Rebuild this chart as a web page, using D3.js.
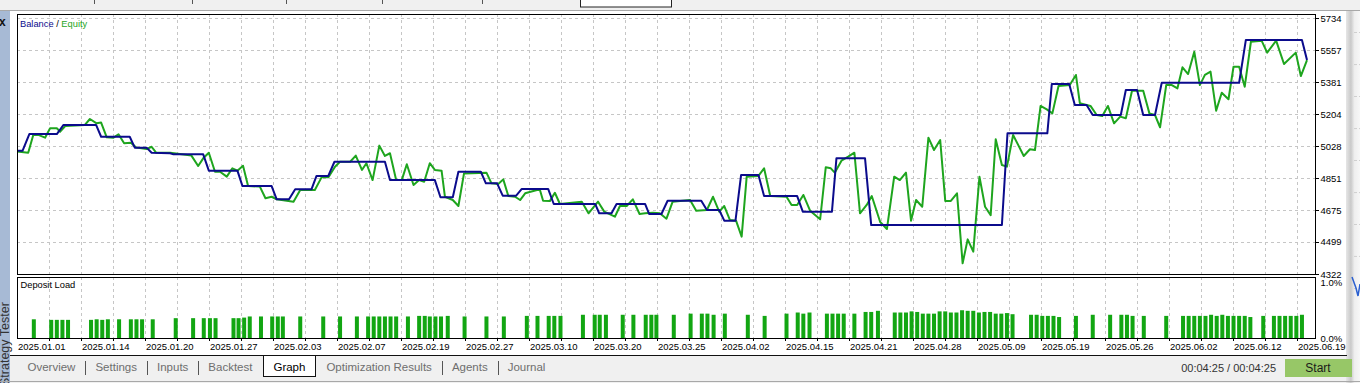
<!DOCTYPE html>
<html lang="en">
<head>
<meta charset="utf-8">
<title>Strategy Tester - Graph</title>
<script src="https://d3js.org/d3.v7.min.js"></script>
<style>
  html, body {
    margin: 0;
    padding: 0;
    background: #f0f0f0;
    overflow: hidden;
  }
  svg {
    display: block;
    font-family: "Liberation Sans", Arial, sans-serif;
  }
  .grid line {
    stroke: #c6c6c6;
    stroke-dasharray: 3,3;
    shape-rendering: crispEdges;
  }
  .frame {
    fill: none;
    stroke: #000;
    shape-rendering: crispEdges;
  }
  .axis text {
    font-size: 9.5px;
    fill: #000;
    font-family: "Liberation Sans", Arial, sans-serif;
  }
  .axis line {
    stroke: #000;
    shape-rendering: crispEdges;
  }
  .axis .domain {
    display: none;
  }
  .tab {
    font-size: 11.5px;
    fill: #6e6e6e;
  }
</style>
</head>
<body>
<div id="chart"></div>
<script>
// x axis labels (dates under the deposit panel)
var dateLabels = ["2025.01.01", "2025.01.14", "2025.01.20", "2025.01.27", "2025.02.03",
  "2025.02.07", "2025.02.19", "2025.02.27", "2025.03.10", "2025.03.20", "2025.03.25",
  "2025.04.02", "2025.04.15", "2025.04.21", "2025.04.28", "2025.05.09", "2025.05.19",
  "2025.05.26", "2025.06.02", "2025.06.12", "2025.06.19"];

// right axis values
var yTicks = [4322, 4499, 4675, 4851, 5028, 5204, 5381, 5557, 5734];
var loadTicks = [0, 1];

// [deal number, balance]
var balance = [[0,5002],[1,5002],[2.2,5094],[7.1,5094],[8.3,5144],[14.1,5144],[15,5079],[20.1,5079],
  [21,5019],[23.1,5019],[24,4991],[27.3,4988],[27.9,4982],[33.2,4982],[34.2,4892],[39.3,4892],
  [40.2,4807],[45.4,4807],[46.3,4734],[48.5,4734],[49.6,4789],[52.5,4789],[53.4,4863],[55.5,4863],
  [56.6,4941],[65.6,4941],[66.5,4840],[74.5,4840],[75.5,4745],[77.7,4745],[78.7,4886],[82.7,4886],
  [83.6,4822],[85.6,4822],[86.6,4754],[89,4754],[90,4791],[94.7,4791],[95.7,4708],[103.1,4708],
  [103.8,4657],[106,4657],[106.9,4708],[112,4708],[112.7,4653],[114.9,4653],[116,4726],[122,4726],
  [123,4675],[125.2,4675],[126.1,4616],[128.1,4616],[129.1,4868],[132.2,4868],[133.2,4752],[139.1,4752],
  [140.1,4666],[145.3,4666],[146.1,4960],[151.2,4960],[152.3,4592],[175.6,4592],[176.6,5098],[183.7,5098],
  [184.5,5370],[187.6,5370],[188.6,5254],[190.7,5254],[191.8,5199],[196.8,5199],[197.7,5337],[199.7,5337],
  [200.8,5199],[202.9,5199],[204.1,5377],[217.9,5377],[219.1,5613],[229.1,5613],[230,5502]];

// [deal number, equity]
var equity = [[0,4997],[2,4991],[2.9,5089],[3.8,5089],[5,5074],[5.9,5126],[7.1,5126],[7.7,5107],
  [8.6,5138],[12.1,5144],[13,5177],[14.2,5153],[15,5157],[16,5076],[17.2,5074],[18.1,5093],[19.1,5043],
  [20.3,5046],[21.3,5019],[23.1,5011],[24,5024],[24.8,4991],[27.3,4991],[31.1,4975],[32.3,4918],
  [33.2,4960],[34.2,4991],[35.3,4886],[36.2,4886],[37.4,4859],[38.4,4905],[39.3,4892],[40.3,4919],
  [41.2,4807],[43.3,4804],[44.3,4740],[45.4,4748],[46.3,4734],[49.3,4721],[50.5,4785],[53.1,4785],
  [54.3,4855],[55.5,4855],[56.7,4914],[57.6,4941],[59.4,4941],[60.4,4975],[61.5,4896],[62.3,4933],
  [63.4,4840],[64.6,5030],[65.6,4973],[66.5,4988],[67.6,4840],[68.6,4840],[69.5,4927],[70.7,4813],
  [71.7,4840],[72.6,4831],[73.6,4933],[74.5,4896],[75.7,4892],[76.3,4748],[77.7,4730],[78.7,4697],
  [79.7,4877],[83.7,4881],[84.6,4822],[85.8,4818],[86.7,4844],[87.6,4752],[88.8,4748],[89.7,4730],
  [90.6,4767],[93.2,4789],[93.8,4726],[95,4724],[95.9,4770],[96.8,4708],[100.7,4721],[101.9,4657],
  [103.6,4721],[104.7,4666],[106.6,4638],[107.5,4697],[108.7,4697],[109.8,4734],[111,4653],[112,4657],
  [113.4,4660],[114.6,4657],[115.8,4627],[116.9,4721],[120,4730],[121.1,4671],[123,4675],[124.1,4748],
  [125.2,4666],[126.1,4697],[127.1,4620],[128.2,4616],[129.2,4528],[130.1,4859],[132.2,4863],[133.2,4905],
  [134.3,4752],[137.2,4748],[138.1,4703],[139.1,4703],[140.2,4758],[141.4,4671],[143.2,4624],[144.2,4911],
  [145.1,4905],[145.8,4881],[147,4947],[148.2,4969],[149.3,4991],[150.3,4657],[151.5,4703],[152.4,4752],
  [153.9,4609],[155.1,4570],[156.4,4859],[157.4,4840],[158.5,4881],[159.4,4616],[160.3,4730],[161.4,4693],
  [162.5,5074],[163.5,5006],[164.6,5061],[165.5,4725],[166.5,4725],[167.6,4767],[168.6,4381],[169.5,4513],
  [170.5,4445],[171.6,4859],[172.6,4693],[173.6,4647],[174.5,5065],[175.6,4923],[176.5,4914],[177.6,5089],
  [179.5,4973],[180.6,5010],[181.5,5006],[182.5,5249],[183.6,5230],[184.6,5208],[185.7,5359],[187.7,5364],
  [188.8,5420],[189.5,5264],[191.4,5249],[192.5,5199],[193.5,5193],[194.5,5249],[195.6,5153],[196.7,5190],
  [197.7,5181],[198.8,5333],[200.8,5333],[201.9,5208],[202.9,5199],[203.8,5131],[204.9,5364],[205.9,5364],
  [206.9,5346],[207.8,5462],[208.8,5425],[209.9,5548],[210.9,5364],[211.8,5420],[212.8,5438],[213.8,5223],
  [214.8,5322],[216,5286],[216.9,5465],[217.9,5465],[218.9,5355],[220,5603],[221.9,5609],[222.9,5543],
  [224.5,5609],[225.9,5480],[228,5543],[228.9,5414],[230,5502]];

// [deal number, deposit load %]
var depositLoad = [[3,0.34],[6.1,0.33],[7.1,0.33],[8.1,0.33],[9.1,0.33],[13.2,0.33],[14.2,0.34],[15.2,0.33],
  [16.2,0.34],[18.2,0.34],[20.3,0.34],[21.3,0.34],[22.3,0.34],[24.2,0.34],[28.3,0.36],[31.4,0.36],
  [33.3,0.36],[34.4,0.36],[35.4,0.36],[38.6,0.36],[39.5,0.36],[40.5,0.37],[41.5,0.39],[43.5,0.39],
  [45.5,0.39],[46.5,0.39],[47.4,0.39],[50.5,0.39],[54.6,0.39],[57.6,0.39],[60.6,0.39],[62.6,0.39],
  [63.6,0.39],[64.6,0.39],[65.6,0.39],[66.6,0.39],[67.6,0.39],[69.7,0.39],[71.7,0.40],[72.7,0.40],
  [73.6,0.39],[74.6,0.39],[75.6,0.39],[76.8,0.40],[79.8,0.39],[83.7,0.39],[86.8,0.39],[90.9,0.40],
  [92.8,0.40],[94.8,0.40],[95.8,0.40],[96.9,0.40],[100.9,0.42],[103,0.42],[103.9,0.42],[105,0.42],
  [108,0.42],[109.9,0.42],[112.1,0.42],[113.1,0.42],[114,0.42],[117.1,0.42],[120.1,0.44],[122.1,0.44],
  [123.1,0.44],[124.2,0.42],[126.2,0.44],[130.3,0.42],[133.3,0.40],[137.2,0.44],[139.2,0.46],[140.2,0.44],
  [141.3,0.46],[144.4,0.44],[145.4,0.44],[146.4,0.44],[147.4,0.44],[149.3,0.44],[151.3,0.47],[152.3,0.47],
  [153.5,0.49],[156.5,0.46],[157.5,0.46],[158.5,0.46],[159.5,0.48],[160.5,0.47],[161.5,0.44],[162.5,0.44],
  [163.5,0.44],[164.5,0.48],[165.5,0.48],[166.5,0.46],[167.5,0.46],[168.5,0.50],[169.5,0.49],[170.5,0.49],
  [171.5,0.46],[172.5,0.47],[173.5,0.47],[174.5,0.44],[175.5,0.44],[176.5,0.45],[177.5,0.43],[180.8,0.42],
  [181.8,0.42],[182.8,0.40],[183.8,0.40],[184.8,0.40],[185.8,0.38],[188.8,0.40],[191.8,0.42],[194.9,0.42],
  [196.9,0.42],[197.9,0.42],[198.9,0.40],[200.9,0.40],[204.9,0.40],[207.9,0.40],[208.9,0.40],[209.9,0.40],
  [210.9,0.40],[211.9,0.40],[212.9,0.42],[213.9,0.40],[214.9,0.42],[215.9,0.40],[216.9,0.40],[217.9,0.40],
  [218.9,0.40],[219.9,0.38],[222.2,0.40],[224.1,0.40],[225.1,0.40],[226.1,0.40],[227.1,0.40],[228.1,0.40],
  [229.1,0.42]];

var tabs = ["Overview", "Settings", "Inputs", "Backtest", "Graph", "Optimization Results", "Agents", "Journal"];
var selectedTab = "Graph";
var timerText = "00:04:25 / 00:04:25";

//Width and height
var w = 1360, h = 383;
var plotLeft = 17, plotRight = 1315;
var plotTop = 14, plotBottom = 274;
var depTop = 277, depBottom = 338;

var x = d3.scaleLinear().domain([0, 230]).range([17, 1307]);
var y = d3.scaleLinear().domain([4322, 5734]).range([274, 18]);
var yLoad = d3.scaleLinear().domain([0, 1]).range([338.5, 282]);
var xDate = d3.scalePoint().domain(dateLabels).range([17, 1297]);

var svg = d3.select("#chart")
  .append("svg")
  .attr("width", w)
  .attr("height", h);

var defs = svg.append("defs");
var shade = defs.append("linearGradient").attr("id", "shade");
shade.append("stop").attr("offset", "0%").attr("stop-color", "#e6e6e6");
shade.append("stop").attr("offset", "35%").attr("stop-color", "#c9c9c9");
shade.append("stop").attr("offset", "60%").attr("stop-color", "#eeeeee");
shade.append("stop").attr("offset", "100%").attr("stop-color", "#f7f7f7");
defs.append("clipPath").attr("id", "plot")
  .append("rect").attr("x", plotLeft).attr("y", plotTop)
  .attr("width", plotRight - plotLeft).attr("height", plotBottom - plotTop);

// window chrome
svg.append("rect").attr("width", w).attr("height", h).attr("fill", "#f0f0f0");
svg.append("rect").attr("x", 10).attr("y", 11).attr("width", 1337).attr("height", 345).attr("fill", "#fff");
svg.append("line").attr("x1", 0).attr("x2", w).attr("y1", 10.5).attr("y2", 10.5)
  .attr("stroke", "#a8a8a8");
[94, 192, 286, 382, 482].forEach(function(sx) {
  svg.append("line").attr("x1", sx + 0.5).attr("x2", sx + 0.5).attr("y1", 0).attr("y2", 4)
    .attr("stroke", "#555");
});
svg.append("rect").attr("x", 580.5).attr("y", -1).attr("width", 91).attr("height", 8)
  .attr("fill", "#fff").attr("stroke", "#222");

// left docked strip
svg.append("rect").attr("x", 0).attr("y", 11).attr("width", 10).attr("height", h - 11).attr("fill", "#a7bad5");
svg.append("text").attr("x", -1).attr("y", 26).attr("font-size", 12).attr("font-weight", "bold")
  .attr("fill", "#111").text("x");
svg.append("text").attr("transform", "translate(9,386) rotate(-90)")
  .attr("font-size", 12.5).attr("fill", "#333").text("Strategy Tester");

// right strip (window behind)
svg.append("rect").attr("x", 1346).attr("y", 11).attr("width", 14).attr("height", h - 11).attr("fill", "url(#shade)");
svg.append("g").selectAll("line").data(yTicks).enter().append("line")
  .attr("x1", 1354).attr("x2", 1360)
  .attr("y1", function(d) { return y(d) + 14.5; }).attr("y2", function(d) { return y(d) + 14.5; })
  .attr("stroke", "#cfcfcf").attr("stroke-dasharray", "3,2");
svg.append("path").attr("d", "M1352,277L1356,288L1358,296L1360,284")
  .attr("fill", "none").attr("stroke", "#2a5fd0").attr("stroke-width", 1.5);

// grid
var gridX = [];
dateLabels.forEach(function(d) {
  gridX.push(xDate(d));
  gridX.push(xDate(d) + xDate.step() / 2);
});
gridX = gridX.filter(function(v) { return v > plotLeft + 1 && v < plotRight - 1; });

var grid = svg.append("g").attr("class", "grid");
grid.selectAll(".vmain").data(gridX).enter().append("line")
  .attr("x1", function(d) { return d + 0.5; }).attr("x2", function(d) { return d + 0.5; })
  .attr("y1", plotTop).attr("y2", plotBottom);
grid.selectAll(".vdep").data(gridX).enter().append("line")
  .attr("x1", function(d) { return d + 0.5; }).attr("x2", function(d) { return d + 0.5; })
  .attr("y1", depTop).attr("y2", depBottom);
grid.selectAll(".h").data(yTicks.slice(1)).enter().append("line")
  .attr("x1", plotLeft).attr("x2", plotRight)
  .attr("y1", function(d) { return Math.round(y(d)) + 0.5; })
  .attr("y2", function(d) { return Math.round(y(d)) + 0.5; });

// lines
var line = d3.line()
  .x(function(d) { return x(d[0]); })
  .y(function(d) { return y(d[1]); });

var lines = svg.append("g").attr("clip-path", "url(#plot)");
lines.append("path").datum(equity).attr("d", line)
  .attr("fill", "none").attr("stroke", "#1ea51e").attr("stroke-width", 2).attr("stroke-linejoin", "round");
lines.append("path").datum(balance).attr("d", line)
  .attr("fill", "none").attr("stroke", "#0b0b8c").attr("stroke-width", 2).attr("stroke-linejoin", "round");

// deposit load bars
svg.append("g").selectAll("rect").data(depositLoad).enter().append("rect")
  .attr("x", function(d) { return x(d[0]) - 2; })
  .attr("width", 4)
  .attr("y", function(d) { return yLoad(d[1]); })
  .attr("height", function(d) { return yLoad(0) - yLoad(d[1]); })
  .attr("fill", "#12a612");

// frames
svg.append("rect").attr("class", "frame").attr("x", plotLeft + 0.5).attr("y", plotTop + 0.5)
  .attr("width", plotRight - plotLeft).attr("height", plotBottom - plotTop);
svg.append("rect").attr("class", "frame").attr("x", plotLeft + 0.5).attr("y", depTop + 0.5)
  .attr("width", plotRight - plotLeft).attr("height", depBottom - depTop);

// panel titles
var title = svg.append("text").attr("x", 20).attr("y", 27).attr("font-size", 9.3);
title.append("tspan").attr("fill", "#0b0b8c").text("Balance");
title.append("tspan").attr("fill", "#000").text(" / ");
title.append("tspan").attr("fill", "#1ea51e").text("Equity");
svg.append("text").attr("x", 20.5).attr("y", 288).attr("font-size", 9.3).attr("fill", "#000").text("Deposit Load");

// right axes
svg.append("g").attr("class", "axis").attr("transform", "translate(" + (plotRight + 0.5) + ",0)")
  .call(d3.axisRight(y).tickValues(yTicks).tickSize(3).tickPadding(2).tickFormat(d3.format("d")));
svg.append("g").attr("class", "axis").attr("transform", "translate(" + (plotRight + 0.5) + ",0)")
  .call(d3.axisRight(yLoad).tickValues(loadTicks).tickSize(0).tickPadding(5)
    .tickFormat(function(d) { return d.toFixed(1) + "%"; }));

// date labels and ticks
var dates = svg.append("g").attr("class", "axis");
dates.selectAll("line").data(gridX).enter().append("line")
  .attr("x1", function(d) { return d + 0.5; }).attr("x2", function(d) { return d + 0.5; })
  .attr("y1", depBottom).attr("y2", depBottom + 3);
dates.selectAll("text").data(dateLabels).enter().append("text")
  .attr("x", function(d) { return xDate(d) + 1; })
  .attr("y", 350)
  .text(function(d) { return d; });

// tab bar
svg.append("line").attr("x1", 10).attr("x2", 1347).attr("y1", 355.5).attr("y2", 355.5).attr("stroke", "#111");
svg.append("line").attr("x1", 0).attr("x2", w).attr("y1", 381.5).attr("y2", 381.5).attr("stroke", "#a8a8a8");

var tabG = svg.append("g");
var tx = 27.5;
tabs.forEach(function(t, i) {
  var sel = t === selectedTab;
  var box = null;
  if (sel) {
    box = tabG.append("rect").attr("y", 355.5).attr("height", 21).attr("fill", "#fff")
      .attr("stroke", "#111").attr("shape-rendering", "crispEdges");
  }
  var label = tabG.append("text").attr("class", "tab").attr("x", tx).attr("y", 371).text(t);
  if (sel) label.style("fill", "#000");
  var tw = label.node().getComputedTextLength();
  if (sel) box.attr("x", Math.round(tx - 10) + 0.5).attr("width", Math.round(tw + 20));
  tx += tw;
  if (i < tabs.length - 1) {
    if (!sel && tabs[i + 1] !== selectedTab) {
      tabG.append("line").attr("x1", Math.round(tx + 10) + 0.5).attr("x2", Math.round(tx + 10) + 0.5)
        .attr("y1", 361).attr("y2", 375).attr("stroke", "#555");
    }
    tx += (sel || tabs[i + 1] === selectedTab) ? 21 : 20;
  }
});

svg.append("text").attr("x", 1276).attr("y", 372).attr("text-anchor", "end")
  .attr("font-size", 11).attr("fill", "#333").text(timerText);
svg.append("rect").attr("x", 1285).attr("y", 359).attr("width", 67).attr("height", 18).attr("fill", "#97c767");
svg.append("text").attr("x", 1318).attr("y", 371.5).attr("text-anchor", "middle")
  .attr("font-size", 12).attr("fill", "#1a1a1a").text("Start");
</script>
</body>
</html>
